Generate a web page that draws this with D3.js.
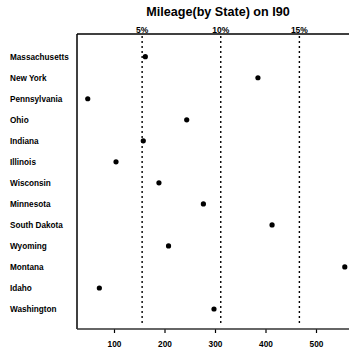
<!DOCTYPE html>
<html><head><meta charset="utf-8">
<script src="https://cdn.jsdelivr.net/npm/d3@7"></script>
<style>body{margin:0;background:#fff}svg{display:block}</style>
</head><body>
<script>
const states = ["Massachusetts","New York","Pennsylvania","Ohio","Indiana","Illinois","Wisconsin","Minnesota","South Dakota","Wyoming","Montana","Idaho","Washington"];
const miles = [162,385,48,244,158,104,189,277,413,208,557,71,298];
const xTicks = [100,200,300,400,500];
const pctTicks = [5,10,15];
const pctLabels = ["5%","10%","15%"];
const title = "Mileage(by State) on I90";

(function(){
const W = 349, H = 353;
const svg = d3.select("body").append("svg").attr("width", W).attr("height", H);
const font = "Liberation Sans, Arial, sans-serif";

const pl = 77, pr = 352, pt = 34, pb = 329;
const x = d3.scaleLinear().domain([100, 500]).range([114, 316]);
const y = d3.scalePoint().domain(states).range([56.7, 309]);
const total = d3.sum(miles);

// title
svg.append("text").attr("x", 218).attr("y", 16).attr("text-anchor", "middle")
  .attr("font-family", font).attr("font-weight", "bold").attr("font-size", 12.6)
  .text(title);

// frame lines
svg.append("line").attr("x1", pl).attr("x2", pr).attr("y1", pt).attr("y2", pt)
  .attr("stroke", "#000").attr("stroke-width", 1.3);
svg.append("line").attr("x1", pl).attr("x2", pl).attr("y1", pt).attr("y2", pb)
  .attr("stroke", "#000").attr("stroke-width", 1.5);

// bottom axis
const xAxis = d3.axisBottom(x).tickValues(xTicks).tickSize(4).tickPadding(8).tickFormat(d3.format("d"));
const gx = svg.append("g").attr("transform", `translate(0,${pb})`).call(xAxis);
gx.select(".domain").remove();
gx.append("line").attr("x1", pl).attr("x2", pr).attr("y1", 0).attr("y2", 0)
  .attr("stroke", "#333").attr("stroke-width", 1.6);
gx.selectAll(".tick line").attr("stroke", "#000").attr("stroke-width", 1.2);
gx.selectAll(".tick text").attr("font-family", font).attr("font-weight", "bold")
  .attr("font-size", 8.3).attr("fill", "#000");

// percentage reference lines
const pv = pctTicks.map(p => total * p / 100);
svg.selectAll("line.ref").data(pv).enter().append("line").attr("class", "ref")
  .attr("x1", d => x(d)).attr("x2", d => x(d)).attr("y1", pt + 2).attr("y2", pb - 5)
  .attr("stroke", "#000").attr("stroke-width", 1.4).attr("stroke-dasharray", "2,3");
svg.selectAll("text.pct").data(pv).enter().append("text").attr("class", "pct")
  .attr("x", d => x(d)).attr("y", pt - 1).attr("text-anchor", "middle")
  .attr("font-family", font).attr("font-weight", "bold").attr("font-size", 8.5)
  .text((d, i) => pctLabels[i]);

// state labels
svg.selectAll("text.st").data(states).enter().append("text").attr("class", "st")
  .attr("x", 10).attr("y", d => y(d)).attr("dy", "0.35em")
  .attr("font-family", font).attr("font-weight", "bold").attr("font-size", 8.2)
  .text(d => d);

// dots
svg.selectAll("circle").data(states).enter().append("circle")
  .attr("cx", (d, i) => x(miles[i])).attr("cy", d => y(d)).attr("r", 2.6).attr("fill", "#000");
})();
</script>
</body></html>
